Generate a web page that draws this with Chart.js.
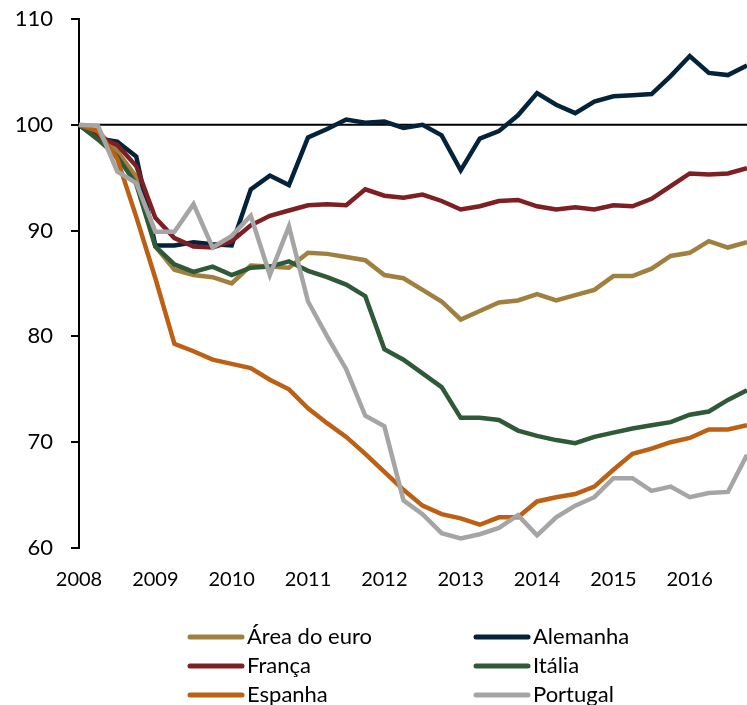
<!DOCTYPE html>
<html>
<head>
<meta charset="utf-8">
<script src="https://cdn.jsdelivr.net/npm/chart.js@4.4.1/dist/chart.umd.min.js"></script>
<style>
  body { margin: 0; background: #fff; }
  canvas { display: block; }
</style>
</head>
<body>
<canvas id="chart" width="747" height="705"></canvas>
<script>
// Quarterly index, 2008 T1 = 100
const years = ['2008', '2009', '2010', '2011', '2012', '2013', '2014', '2015', '2016'];
const quarterLabels = years.flatMap(y => ['T1', 'T2', 'T3', 'T4'].map(q => y + ' ' + q));

const seriesNames = ['Área do euro', 'Alemanha', 'França', 'Itália', 'Espanha', 'Portugal'];
const seriesColors = ['#A0803F', '#03233A', '#7E1F23', '#2F5A37', '#BE6013', '#A5A5A5'];

const areaEuro = [100, 99.4, 97.5, 95.1, 88.5, 86.3, 85.8, 85.6, 85.0, 86.7, 86.6, 86.5,
  87.9, 87.8, 87.5, 87.2, 85.8, 85.5, 84.4, 83.3, 81.6, 82.4, 83.2, 83.4,
  84.0, 83.4, 83.9, 84.4, 85.7, 85.7, 86.4, 87.6, 87.9, 89.0, 88.4, 88.9];
const alemanha = [100, 98.7, 98.4, 97.0, 88.6, 88.6, 88.9, 88.7, 88.6, 93.9, 95.2, 94.3,
  98.8, 99.6, 100.5, 100.2, 100.3, 99.7, 100.0, 99.0, 95.7, 98.7, 99.4, 100.9,
  103.0, 101.9, 101.1, 102.2, 102.7, 102.8, 102.9, 104.6, 106.5, 104.9, 104.7, 105.6];
const franca = [100, 98.9, 98.1, 96.1, 91.2, 89.3, 88.5, 88.4, 89.0, 90.5, 91.4, 91.9,
  92.4, 92.5, 92.4, 93.9, 93.3, 93.1, 93.4, 92.8, 92.0, 92.3, 92.8, 92.9,
  92.3, 92.0, 92.2, 92.0, 92.4, 92.3, 93.0, 94.2, 95.4, 95.3, 95.4, 95.9];
const italia = [100, 98.6, 97.0, 94.4, 88.5, 86.8, 86.1, 86.6, 85.8, 86.5, 86.6, 87.1,
  86.2, 85.6, 84.9, 83.8, 78.8, 77.8, 76.5, 75.2, 72.3, 72.3, 72.1, 71.1,
  70.6, 70.2, 69.9, 70.5, 70.9, 71.3, 71.6, 71.9, 72.6, 72.9, 74.0, 74.9];
const espanha = [100, 99.4, 96.8, 91.3, 85.5, 79.3, 78.6, 77.8, 77.4, 77.0, 75.9, 75.0,
  73.2, 71.8, 70.5, 68.9, 67.2, 65.5, 64.0, 63.2, 62.8, 62.2, 62.9, 62.9,
  64.4, 64.8, 65.1, 65.8, 67.4, 68.9, 69.4, 70.0, 70.4, 71.2, 71.2, 71.6];
const portugal = [100, 99.9, 95.6, 94.5, 89.9, 89.9, 92.5, 88.4, 89.5, 91.4, 85.8, 90.4,
  83.3, 80.0, 76.9, 72.5, 71.5, 64.5, 63.2, 61.4, 60.9, 61.3, 61.9, 63.1,
  61.2, 62.9, 64.0, 64.8, 66.6, 66.6, 65.4, 65.8, 64.8, 65.2, 65.3, 68.8];

const seriesValues = [areaEuro, alemanha, franca, italia, espanha, portugal];
const yTicks = [60, 70, 80, 90, 100, 110];
const baseValue = 100;

const fontFamily = 'Lato, "Open Sans", sans-serif';

// Black reference line at 100
const baseLine = {
    id: 'baseLine',
    beforeDatasetsDraw: (chart) => {
        const ctx = chart.ctx;
        const area = chart.chartArea;
        const y = chart.scales.y.getPixelForValue(baseValue);
        ctx.save();
        ctx.strokeStyle = '#000';
        ctx.lineWidth = 2;
        ctx.beginPath();
        ctx.moveTo(area.left, y);
        ctx.lineTo(area.right, y);
        ctx.stroke();
        ctx.restore();
    }
};

// Legend in two columns under the axis
const twoColumnLegend = {
    id: 'twoColumnLegend',
    afterDraw: (chart) => {
        const ctx = chart.ctx;
        ctx.save();
        ctx.font = '22px ' + fontFamily;
        ctx.textAlign = 'left';
        ctx.textBaseline = 'middle';
        chart.data.datasets.forEach((ds, i) => {
            const col = i % 2;
            const row = Math.floor(i / 2);
            const x0 = col === 0 ? 190 : 476;
            const y = 637 + row * 29;
            ctx.strokeStyle = ds.borderColor;
            ctx.lineWidth = 5;
            ctx.lineCap = 'round';
            ctx.beginPath();
            ctx.moveTo(x0, y);
            ctx.lineTo(x0 + 52, y);
            ctx.stroke();
            ctx.fillStyle = '#000';
            ctx.fillText(ds.label, x0 + 57, y);
        });
        ctx.restore();
    }
};

const datasets = seriesNames.map((name, i) => ({
    label: name,
    data: seriesValues[i],
    borderColor: seriesColors[i],
    backgroundColor: seriesColors[i],
    borderWidth: 4.5,
    pointRadius: 0,
    tension: 0,
    fill: false,
    order: seriesNames.length - i // later series drawn on top
}));

new Chart(document.getElementById('chart'), {
    type: 'line',
    data: { labels: quarterLabels, datasets: datasets },
    options: {
        responsive: false,
        animation: false,
        layout: { autoPadding: false, padding: { top: 19, left: 0, right: 0, bottom: 0 } },
        plugins: {
            legend: { display: false },
            tooltip: { enabled: false }
        },
        scales: {
            x: {
                offset: false,
                grid: { display: false, drawTicks: true, tickLength: 20 },
                border: { display: false },
                ticks: {
                    autoSkip: false,
                    maxRotation: 0,
                    minRotation: 0,
                    padding: 0,
                    color: '#000',
                    font: { family: fontFamily, size: 20 },
                    callback: (value, index) => index % 4 === 0 ? years[index / 4] : ''
                },
                afterFit: (scale) => {
                    scale.height = 157;
                    scale.paddingLeft = 0;
                    scale.paddingRight = 0;
                }
            },
            y: {
                min: yTicks[0],
                max: yTicks[yTicks.length - 1],
                afterBuildTicks: (scale) => { scale.ticks = yTicks.map(v => ({ value: v })); },
                grid: {
                    drawOnChartArea: false,
                    drawTicks: true,
                    tickLength: 8,
                    color: '#000',
                    lineWidth: 2
                },
                border: { display: true, color: '#000', width: 2 },
                ticks: {
                    padding: 18,
                    color: '#000',
                    font: { family: fontFamily, size: 22 }
                },
                afterFit: (scale) => {
                    scale.width = 79;
                    scale.paddingTop = 0;
                    scale.paddingBottom = 0;
                }
            }
        }
    },
    plugins: [baseLine, twoColumnLegend]
});
</script>
</body>
</html>
